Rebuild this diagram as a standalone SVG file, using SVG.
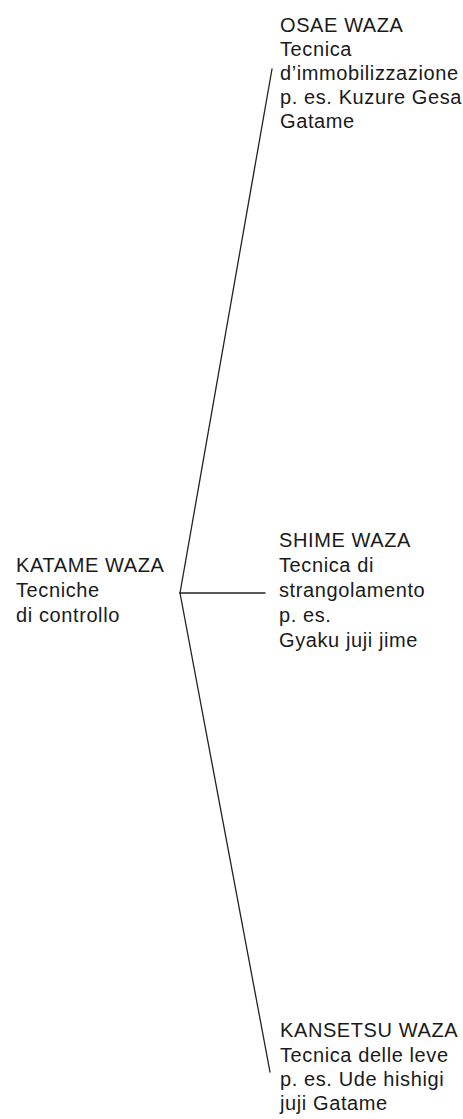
<svg xmlns="http://www.w3.org/2000/svg" width="463" height="1119" viewBox="0 0 463 1119">
<style>
text{font-family:"Liberation Sans",Arial,sans-serif;font-size:20px;letter-spacing:0.6px;fill:#1a1a1a}
.ln{stroke:#222;stroke-width:1.3;fill:none;stroke-linecap:round}
</style>
<rect width="463" height="1119" fill="#ffffff"/>
<g id="connectors">
<line class="ln" x1="180" y1="593" x2="272" y2="69"/>
<line class="ln" x1="180" y1="593" x2="265" y2="593"/>
<line class="ln" x1="180" y1="593" x2="270" y2="1072"/>
</g>
<g id="katame">
<text x="16" y="572">KATAME WAZA</text>
<text x="16" y="597">Tecniche</text>
<text x="16" y="622">di controllo</text>
</g>
<g id="osae">
<text x="280" y="32">OSAE WAZA</text>
<text x="280" y="56">Tecnica</text>
<text x="280" y="80">d’immobilizzazione</text>
<text x="280" y="104">p. es. Kuzure Gesa</text>
<text x="280" y="128">Gatame</text>
</g>
<g id="shime">
<text x="279" y="547">SHIME WAZA</text>
<text x="279" y="572">Tecnica di</text>
<text x="279" y="597">strangolamento</text>
<text x="279" y="622">p. es.</text>
<text x="279" y="647">Gyaku juji jime</text>
</g>
<g id="kansetsu">
<text x="280" y="1037">KANSETSU WAZA</text>
<text x="280" y="1062">Tecnica delle leve</text>
<text x="280" y="1086">p. es. Ude hishigi</text>
<text x="280" y="1110">juji Gatame</text>
</g>
</svg>
